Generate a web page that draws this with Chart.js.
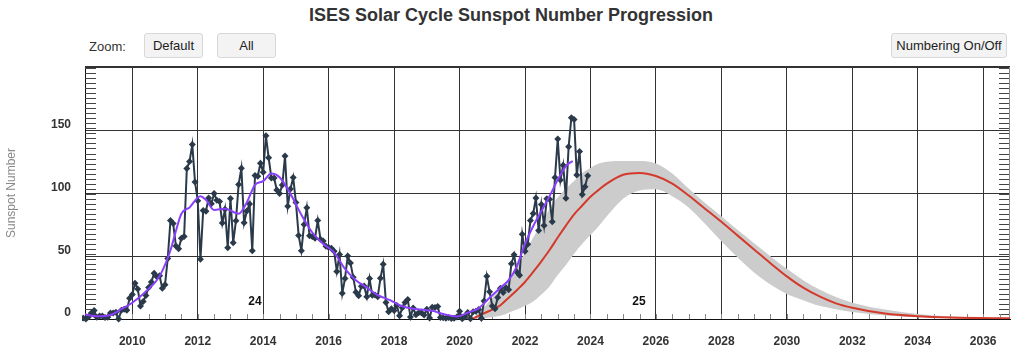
<!DOCTYPE html>
<html>
<head>
<meta charset="utf-8">
<script src="https://cdn.jsdelivr.net/npm/chart.js@4"></script>
<style>
html,body{margin:0;padding:0;background:#fff;}
body{width:1022px;height:355px;position:relative;overflow:hidden;font-family:"Liberation Sans",Arial,sans-serif;}
#c{position:absolute;left:0;top:0;}
.title{position:absolute;left:0;top:5px;width:1022px;text-align:center;font-weight:bold;font-size:18px;line-height:20px;color:#333;}
.zl{position:absolute;left:89px;top:39px;font-size:13px;line-height:16px;color:#333;}
.btn{position:absolute;top:33px;height:25px;box-sizing:border-box;border:1px solid #d8d8d8;background:#f3f3f3;border-radius:3px;font-size:13px;line-height:23px;text-align:center;color:#222;}
</style>
</head>
<body>
<div class="title">ISES Solar Cycle Sunspot Number Progression</div>
<div class="zl">Zoom:</div>
<div class="btn" style="left:144px;width:59px;">Default</div>
<div class="btn" style="left:217px;width:59px;">All</div>
<div class="btn" style="left:891px;width:116px;">Numbering On/Off</div>
<canvas id="c" width="1022" height="355"></canvas>
<script>
// ---------- DATA ----------
const obsStartYear = 2008;
const obsStartMonth = 7; // July 2008
const observed = [
  0.8, 0.0, 1.8, 4.8, 6.8, 1.3,                                         // 2008 Jul-Dec
  2.3, 2.3, 1.2, 1.3, 4.8, 4.8, 5.3, 0.0, 7.0, 7.7, 7.0, 16.5,          // 2009
  19.6, 28.5, 24.0, 10.4, 13.9, 18.8, 25.2, 29.6, 36.4, 33.6, 34.4, 24.5, // 2010
  27.3, 48.3, 78.6, 76.1, 58.2, 56.1, 64.5, 65.8, 120.1, 125.7, 139.1, 109.3, // 2011
  94.4, 47.6, 86.6, 85.9, 96.5, 92.0, 100.1, 94.8, 93.7, 76.5, 87.6, 56.8,  // 2012
  96.1, 60.9, 78.3, 107.3, 120.2, 76.7, 86.2, 91.8, 54.5, 114.4, 113.9, 124.2, // 2013
  117.0, 146.1, 128.7, 112.5, 112.5, 102.9, 100.2, 106.9, 130.0, 90.0, 103.6, 112.9, // 2014
  93.0, 66.7, 54.5, 75.3, 88.8, 66.5, 65.8, 64.4, 78.6, 63.6, 62.2, 58.0,   // 2015
  57.0, 56.4, 54.1, 37.9, 51.5, 20.5, 32.4, 50.2, 44.6, 33.4, 21.4, 18.5,   // 2016
  26.1, 26.4, 17.7, 32.3, 18.9, 19.2, 17.8, 32.6, 43.7, 13.2, 5.7, 8.2,     // 2017
  6.8, 10.7, 2.5, 8.9, 13.1, 15.6, 1.6, 8.7, 3.3, 4.9, 4.9, 3.1,            // 2018
  7.7, 0.8, 9.4, 9.1, 9.9, 1.2, 0.9, 0.5, 1.1, 0.4, 0.5, 1.5,               // 2019
  6.2, 0.2, 1.5, 5.2, 0.2, 5.8, 6.1, 7.5, 0.6, 14.4, 34.0, 21.8,            // 2020
  10.4, 8.2, 17.2, 24.5, 21.2, 25.0, 23.4, 44.0, 51.3, 37.4, 34.8, 67.5,    // 2021
  54.0, 59.7, 78.5, 84.1, 96.5, 70.5, 91.4, 74.6, 96.0, 95.5, 77.6, 112.8,  // 2022
  143.6, 110.9, 122.6, 96.4, 137.4, 160.5, 159.1, 114.8, 133.6, 99.4, 105.4, 114.2 // 2023
];

const smoothedYears = [2008.5, 2008.92, 2009.33, 2009.67, 2010.0, 2010.5, 2010.83, 2011.17, 2011.33, 2011.5, 2011.75,
  2012.08, 2012.25, 2012.5, 2012.83, 2013.25, 2013.5, 2013.75, 2014.0, 2014.25, 2014.5, 2014.83,
  2015.17, 2015.5, 2015.83, 2016.17, 2016.5, 2016.83, 2017.17, 2017.5, 2017.88, 2018.17, 2018.5, 2018.83,
  2019.17, 2019.5, 2019.92, 2020.25, 2020.58, 2020.92, 2021.25, 2021.5, 2021.75, 2022.0, 2022.25, 2022.5,
  2022.75, 2023.0, 2023.25, 2023.46];
const smoothedValues = [4.0, 2.2, 3.2, 8, 13, 24, 34, 55, 70, 84, 89,
  98, 95, 87, 88, 84, 93, 107, 110, 116, 113, 100,
  83, 69, 60, 53, 40, 31, 25, 19, 15, 11, 8.5, 7.5,
  6.5, 4, 2, 5, 8.5, 17, 25, 31, 42, 60, 74, 86,
  98, 111, 122, 126];

const predYears = [2020.4, 2020.7, 2021.0, 2021.25, 2021.5, 2021.75, 2022.0, 2022.25, 2022.5, 2022.75,
  2023.0, 2023.25, 2023.5, 2023.75, 2024.0, 2024.25, 2024.5, 2025.0, 2025.5, 2026.0, 2026.5, 2027.0,
  2027.5, 2028.0, 2028.5, 2029.0, 2029.5, 2030.0, 2030.5, 2031.0, 2031.5, 2032.0, 2033.0, 2034.0, 2035.0, 2036.9];
const predValues = [0.3, 4, 7.5, 11, 17, 23, 29.5, 37.5, 46, 55,
  65, 74.5, 83.5, 90.5, 97.5, 103, 108, 115, 116.5, 114, 108, 98.5,
  88, 77.5, 66.5, 55.5, 44.5, 34, 25, 18, 12.5, 9, 4.3, 2.2, 1.2, 0.5];
const predHigh = [0.5, 8, 17, 24, 31, 41, 53, 65, 76, 88,
  97, 104, 110, 116.5, 120.5, 124, 125.5, 126, 126, 124, 116, 104,
  92.5, 82, 71, 60.5, 50, 40, 31, 23.5, 17.5, 13, 7.5, 4, 2, 0.8];
const predLow = [0, 0.5, 1.5, 2.5, 5, 7.5, 10.5, 14, 19.5, 26,
  35, 43, 52, 60, 67, 74, 82, 96, 102.5, 103.5, 98, 89,
  76, 62, 49, 37, 27.5, 20, 15, 10.5, 7.8, 5.5, 2.8, 1.3, 0.6, 0.2];

const xTickYears = [2010, 2012, 2014, 2016, 2018, 2020, 2022, 2024, 2026, 2028, 2030, 2032, 2034, 2036];
const yTickValues = [0, 50, 100, 150];
const cycleNames = ['24', '25'];
const cycleYears = [2013.75, 2025.48];

// ---------- STYLE / AXIS SETTINGS ----------
const xMin = 2008.555, xMax = 2036.82;
const yMin = 0, yMax = 201;
const xMinorStep = 0.5, yMinorStep = 4;

const observedPts = observed.map((v, i) => ({x: obsStartYear + (obsStartMonth - 1 + i) / 12, y: v}));
const toPts = (xs, ys) => xs.map((x, i) => ({x: x, y: ys[i]}));

Chart.defaults.font.family = '"Liberation Sans", Arial, sans-serif';

const framePlugin = {
  id: 'frame',
  beforeDatasetsDraw(chart) {
    const {ctx, chartArea: a, scales: {x, y}} = chart;
    ctx.save();
    ctx.lineWidth = 1;
    ctx.strokeStyle = '#444';
    ctx.beginPath();
    const nY = Math.floor(yMax / yMinorStep);
    for (let i = 1; i <= nY; i++) {
      const py = Math.round(y.getPixelForValue(i * yMinorStep)) + 0.5;
      ctx.moveTo(a.left, py); ctx.lineTo(a.left + 11, py);
      ctx.moveTo(a.right - 11, py); ctx.lineTo(a.right, py);
    }
    ctx.stroke();
    ctx.strokeStyle = '#888';
    ctx.beginPath();
    const i0 = Math.ceil(x.min / xMinorStep), i1 = Math.floor(x.max / xMinorStep);
    for (let i = i0; i <= i1; i++) {
      const px = Math.round(x.getPixelForValue(i * xMinorStep)) + 0.5;
      ctx.moveTo(px, a.bottom); ctx.lineTo(px, a.bottom - 5);
    }
    ctx.stroke();
    ctx.strokeStyle = '#333';
    ctx.lineWidth = 2;
    ctx.beginPath(); ctx.moveTo(a.left, a.top); ctx.lineTo(a.right, a.top); ctx.stroke();
    ctx.strokeStyle = '#888';
    ctx.lineWidth = 1;
    ctx.beginPath(); ctx.moveTo(a.right - 0.5, a.top); ctx.lineTo(a.right - 0.5, a.bottom); ctx.stroke();
    ctx.restore();
  },
  afterDatasetsDraw(chart) {
    const {ctx, chartArea: a, scales: {x}} = chart;
    ctx.save();
    ctx.fillStyle = '#111';
    ctx.font = 'bold 12px "Liberation Sans", Arial, sans-serif';
    ctx.textAlign = 'center';
    ctx.textBaseline = 'middle';
    cycleNames.forEach((n, i) => ctx.fillText(n, x.getPixelForValue(cycleYears[i]), a.bottom - 17));
    ctx.restore();
  }
};

new Chart(document.getElementById('c'), {
  type: 'line',
  data: {
    datasets: [
      {label: 'Predicted High', data: toPts(predYears, predHigh), borderWidth: 0, pointRadius: 0,
       backgroundColor: '#cccccc', fill: '+1', cubicInterpolationMode: 'monotone', order: 5},
      {label: 'Predicted Low', data: toPts(predYears, predLow), borderWidth: 0, pointRadius: 0,
       fill: false, cubicInterpolationMode: 'monotone', order: 4},
      {label: 'Predicted', data: toPts(predYears, predValues), borderColor: '#d33a2c', borderWidth: 2,
       pointRadius: 0, fill: false, cubicInterpolationMode: 'monotone', order: 3},
      {label: 'Monthly Values', data: observedPts, borderColor: '#2b3a4a', borderWidth: 2,
       pointStyle: 'rectRot', pointRadius: 3.5, pointBackgroundColor: '#2b3a4a', pointBorderColor: '#2b3a4a',
       pointBorderWidth: 0, tension: 0, fill: false, order: 2, clip: {left: 3, top: 5, right: 5, bottom: 5}},
      {label: 'Smoothed', data: toPts(smoothedYears, smoothedValues), borderColor: '#8a3ffc', borderWidth: 2,
       pointRadius: 0, fill: false, cubicInterpolationMode: 'monotone', order: 1}
    ]
  },
  options: {
    responsive: false,
    animation: false,
    devicePixelRatio: 1,
    layout: {padding: {top: 67, right: 12, left: 0, bottom: 0}},
    plugins: {legend: {display: false}, tooltip: {enabled: false}, title: {display: false}},
    scales: {
      x: {
        type: 'linear', min: xMin, max: xMax,
        afterBuildTicks: s => { s.ticks = xTickYears.map(v => ({value: v})); },
        afterFit: s => { s.height = 36; },
        grid: {color: '#333', drawTicks: false, lineWidth: 1},
        border: {color: '#111'},
        ticks: {padding: 15, color: '#333', font: {size: 12, weight: 'bold'}, maxRotation: 0, autoSkip: false,
                callback: v => String(v)}
      },
      y: {
        min: yMin, max: yMax,
        afterBuildTicks: s => { s.ticks = yTickValues.map(v => ({value: v})); },
        afterFit: s => { s.width = 85; },
        grid: {color: c => (c.tick && c.tick.value === 0) ? 'rgba(0,0,0,0)' : '#333', drawTicks: false},
        border: {color: '#111'},
        ticks: {padding: 14, labelOffset: -6, color: '#333', font: {size: 12, weight: 'bold'}},
        title: {display: true, text: 'Sunspot Number', color: '#888', font: {size: 12, weight: 'normal'},
                padding: {top: 4, bottom: 0}}
      }
    }
  },
  plugins: [framePlugin]
});
</script>
</body>
</html>
